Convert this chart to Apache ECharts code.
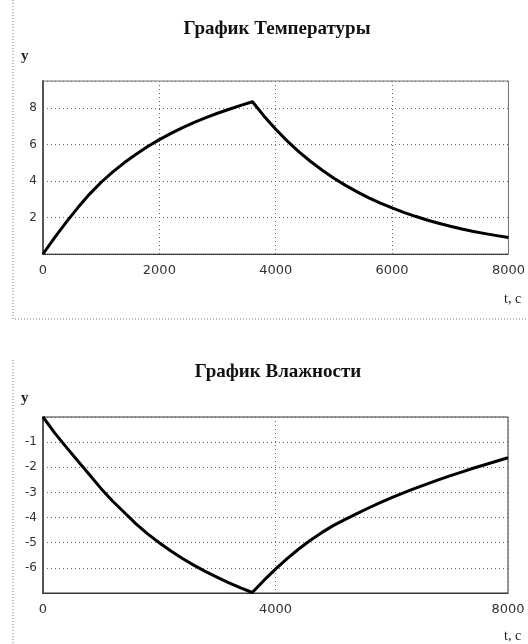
<!DOCTYPE html>
<html>
<head>
<meta charset="utf-8">
<script src="https://cdn.jsdelivr.net/npm/echarts@6/dist/echarts.min.js"></script>
<style>
  html, body { margin: 0; padding: 0; background: #fff; }
  #chart { width: 528px; height: 644px; }
</style>
</head>
<body>
<div id="chart"></div>
<script>
// time, s
const timeSec = [0, 200, 400, 600, 800, 1000, 1200, 1400, 1600, 1800,
  2000, 2200, 2400, 2600, 2800, 3000, 3200, 3400, 3600, 3800,
  4000, 4200, 4400, 4600, 4800, 5000, 5200, 5400, 5600, 5800,
  6000, 6200, 6400, 6600, 6800, 7000, 7200, 7400, 7600, 7800, 8000];
// температура
const tempValues = [0, 0.9, 1.75, 2.55, 3.29, 3.94, 4.51, 5.02, 5.48, 5.9,
  6.28, 6.62, 6.94, 7.23, 7.49, 7.73, 7.95, 8.16, 8.36, 7.57,
  6.85, 6.2, 5.61, 5.08, 4.6, 4.16, 3.77, 3.41, 3.08, 2.79,
  2.53, 2.29, 2.07, 1.87, 1.69, 1.52, 1.37, 1.24, 1.12, 1.01, 0.91];
// влажность
const humidityValues = [0, -0.63, -1.2, -1.75, -2.3, -2.85, -3.35, -3.8, -4.25, -4.65,
  -5.0, -5.33, -5.63, -5.9, -6.15, -6.38, -6.6, -6.8, -6.98, -6.5,
  -6.05, -5.63, -5.25, -4.9, -4.59, -4.31, -4.07, -3.84, -3.62, -3.41,
  -3.21, -3.02, -2.84, -2.67, -2.5, -2.34, -2.19, -2.04, -1.9, -1.76, -1.62];

const titles = ['График Температуры', 'График Влажности'];

const chart = echarts.init(document.getElementById('chart'));

const serif = '"Liberation Serif", "DejaVu Serif", serif';
const labelFont = '"DejaVu Sans", sans-serif';

const pairs = (ys) => timeSec.map((t, i) => [t, ys[i]]);

const dotted = { color: '#666', type: [1, 3], width: 1 };

function xAxisOf(gridIndex, interval) {
  return {
    type: 'value',
    gridIndex,
    min: 0,
    max: 8000,
    interval,
    axisLine: { show: true, onZero: false, lineStyle: { color: '#222', type: [1, 1], width: 1 } },
    axisTick: { show: false },
    axisLabel: {
      color: '#333', fontFamily: labelFont, fontSize: 13, margin: 10,
      formatter: (v) => String(v),
    },
    splitLine: { show: true, lineStyle: dotted },
  };
}

function yAxisOf(gridIndex, min, max, interval) {
  return {
    type: 'value',
    gridIndex,
    min,
    max,
    interval,
    axisLine: { show: true, onZero: false, lineStyle: { color: '#555', width: 2 } },
    axisTick: { show: false },
    axisLabel: {
      color: '#333', fontFamily: labelFont, fontSize: 12, margin: 6,
      showMinLabel: false, showMaxLabel: false,
      formatter: (v) => String(v),
    },
    splitLine: { show: true, lineStyle: dotted },
  };
}

const titleStyle = { fontFamily: serif, fontWeight: 'bold', fontSize: 19, color: '#111' };

const option = {
  animation: false,
  title: [
    { text: titles[0], left: 272, top: 15, textAlign: 'center', textStyle: titleStyle },
    { text: titles[1], left: 273, top: 358, textAlign: 'center', textStyle: titleStyle },
  ],
  grid: [
    { left: 43, top: 81, width: 466, height: 173, show: true, borderColor: '#777', borderWidth: 1, containLabel: false },
    { left: 43, top: 417, width: 465, height: 176, show: true, borderColor: '#333', borderWidth: 1, containLabel: false },
  ],
  xAxis: [xAxisOf(0, 2000), xAxisOf(1, 4000)],
  yAxis: [yAxisOf(0, 0, 9.5, 2), yAxisOf(1, -7, 0, 1)],
  series: [
    {
      type: 'line', xAxisIndex: 0, yAxisIndex: 0,
      data: pairs(tempValues),
      showSymbol: false, smooth: false,
      lineStyle: { color: '#000', width: 3, join: 'round' },
    },
    {
      type: 'line', xAxisIndex: 1, yAxisIndex: 1,
      data: pairs(humidityValues),
      showSymbol: false, smooth: false,
      lineStyle: { color: '#000', width: 3, join: 'round' },
    },
  ],
  graphic: [
    // outer dotted frames
    {
      type: 'polyline', silent: true,
      shape: { points: [[13, 0], [13, 319], [528, 319]] },
      style: { stroke: '#777', lineWidth: 1, lineDash: [1, 2], fill: null },
    },
    {
      type: 'polyline', silent: true,
      shape: { points: [[13, 360], [13, 644]] },
      style: { stroke: '#777', lineWidth: 1, lineDash: [1, 2], fill: null },
    },
    // axis names
    { type: 'text', left: 21, top: 49, style: { text: 'y', font: 'bold 15px ' + serif, fill: '#222' } },
    { type: 'text', left: 504, top: 292, style: { text: 't, c', font: '14px ' + serif, fill: '#222' } },
    { type: 'text', left: 21, top: 391, style: { text: 'y', font: 'bold 15px ' + serif, fill: '#222' } },
    { type: 'text', left: 504, top: 629, style: { text: 't, c', font: '14px ' + serif, fill: '#222' } },
  ],
};

chart.setOption(option);
</script>
</body>
</html>
